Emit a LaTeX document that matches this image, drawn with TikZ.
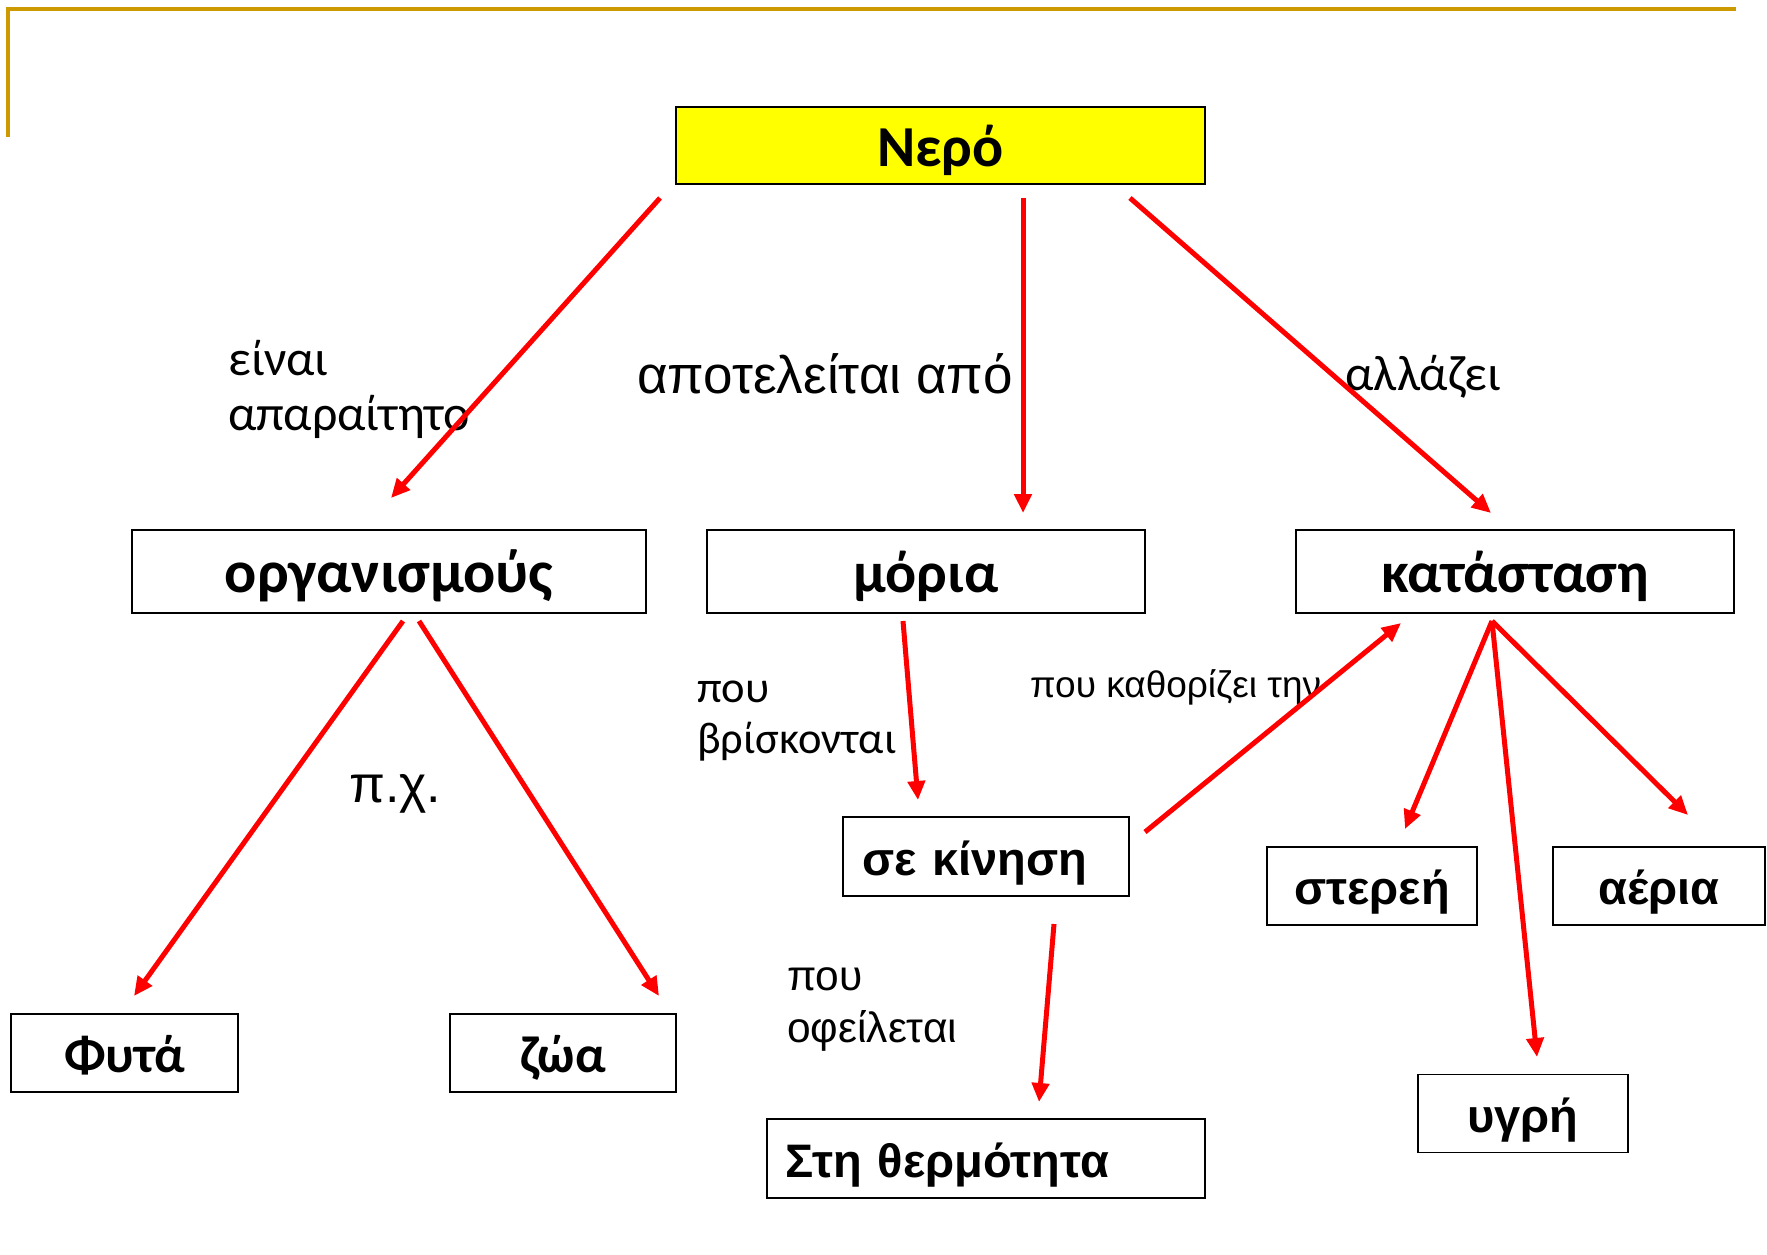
\documentclass[tikz,border=0pt]{standalone}
\usepackage{fontspec}
\setmainfont{Liberation Sans}
\newfontfamily\calfont{Carlito}
\newfontfamily\arifont{Liberation Sans}
\usetikzlibrary{arrows.meta}
\definecolor{goldline}{RGB}{204,153,0}
\definecolor{arrred}{RGB}{255,0,0}
\definecolor{boxyellow}{RGB}{255,255,0}
\tikzset{
  box/.style={draw=black, line width=1.8pt, inner sep=0pt, minimum height=78},
  cbig/.style={font=\calfont\bfseries\fontsize{58}{70}\selectfont, text height=42pt, text depth=0pt},
  cmid/.style={font=\calfont\bfseries\fontsize{52}{62}\selectfont, text height=38pt, text depth=0pt},
  abig/.style={font=\arifont\bfseries\fontsize{47}{56}\selectfont, text height=37pt, text depth=0pt},
  arr/.style={draw=arrred, line width=5pt, -{Triangle[length=19pt,width=17pt]}},
  lbl/.style={inner sep=0pt, anchor=base west},
}
\begin{document}
\begin{tikzpicture}[x=1pt,y=-1pt]
\useasboundingbox (0,0) rectangle (1767,1254);
% gold frame lines
\draw[goldline, line width=4pt] (8,137) -- (8,9) -- (1736,9);

% boxes
\node[box, fill=boxyellow, minimum width=529, minimum height=77, cbig] (nero) at (940.5,145.5) {Νερό};
\node[box, minimum width=514, minimum height=83, cbig, font=\calfont\bfseries\fontsize{60}{72}\selectfont] (org) at (389,571.5) {οργανισμούς};
\node[box, minimum width=438, minimum height=83, cbig] (moria) at (926,571.5) {μόρια};
\node[box, minimum width=438, minimum height=83, cbig] (kat) at (1515,571.5) {κατάσταση};
\node[box, minimum width=227, cmid] (fyta) at (124.5,1053) {Φυτά};
\node[box, minimum width=226, cmid] (zoa) at (563,1053) {ζώα};
\node[box, minimum width=286, minimum height=79, abig, text width=248, align=left, inner xsep=19] (kin) at (986,856.5) {σε κίνηση};
\node[box, minimum width=438, minimum height=79, abig, text width=402, align=left, inner xsep=18] (therm) at (986,1158.5) {Στη θερμότητα};
\node[box, minimum width=210, abig] (ster) at (1372,886) {στερεή};
\node[box, minimum width=212, abig] (aer) at (1659,886) {αέρια};
\node[box, minimum width=210, abig] (ygr) at (1523,1113.5) {υγρή};

% labels
\node[lbl, font=\calfont\fontsize{50}{55}\selectfont] (l1) at (228,375) {\vtop{\hbox{είναι}\hbox{απαραίτητο}}};
\node[lbl, font=\arifont\fontsize{53}{60}\selectfont] (l2) at (637,393) {αποτελείται από};
\node[lbl, font=\calfont\fontsize{50}{55}\selectfont] (l3) at (1345,390) {αλλάζει};
\node[lbl, font=\calfont\fontsize{44.5}{51}\selectfont] (l4) at (697,702) {\vtop{\hbox{που}\hbox{βρίσκονται}}};
\node[lbl, font=\arifont\fontsize{52}{60}\selectfont] (l5) at (349,802) {π.χ.};
\node[lbl, font=\arifont\fontsize{37}{46}\selectfont] (l6) at (1030,697) {που καθορίζει την};
\node[lbl, font=\arifont\fontsize{42.5}{52}\selectfont] (l7) at (787,990) {\vtop{\hbox{που}\hbox{οφείλεται}}};

% arrow end points
\coordinate (a1s) at (660,198);  \coordinate (a1e) at (391,498);
\coordinate (a2s) at (1023,198); \coordinate (a2e) at (1023,513);
\coordinate (a3s) at (1130,198); \coordinate (a3e) at (1491,513);
\coordinate (a4s) at (403,621);  \coordinate (a4e) at (134,996);
\coordinate (a5s) at (419,621);  \coordinate (a5e) at (659,996);
\coordinate (a6s) at (903,621);  \coordinate (a6e) at (918,800);
\coordinate (a7s) at (1145,832); \coordinate (a7e) at (1401,623);
\coordinate (a8s) at (1054,924); \coordinate (a8e) at (1039,1102);
\coordinate (a9s) at (1492,621); \coordinate (a9e) at (1405,829);
\coordinate (a10e) at (1537,1057);
\coordinate (a11e) at (1688,815);

% arrows
\draw[arr] (a1s) -- (a1e);
\draw[arr] (a2s) -- (a2e);
\draw[arr] (a3s) -- (a3e);
\draw[arr] (a4s) -- (a4e);
\draw[arr] (a5s) -- (a5e);
\draw[arr] (a6s) -- (a6e);
\draw[arr] (a7s) -- (a7e);
\draw[arr] (a8s) -- (a8e);
\draw[arr] (a9s) -- (a9e);
\draw[arr] (a9s) -- (a10e);
\draw[arr] (a9s) -- (a11e);
\end{tikzpicture}
\end{document}
